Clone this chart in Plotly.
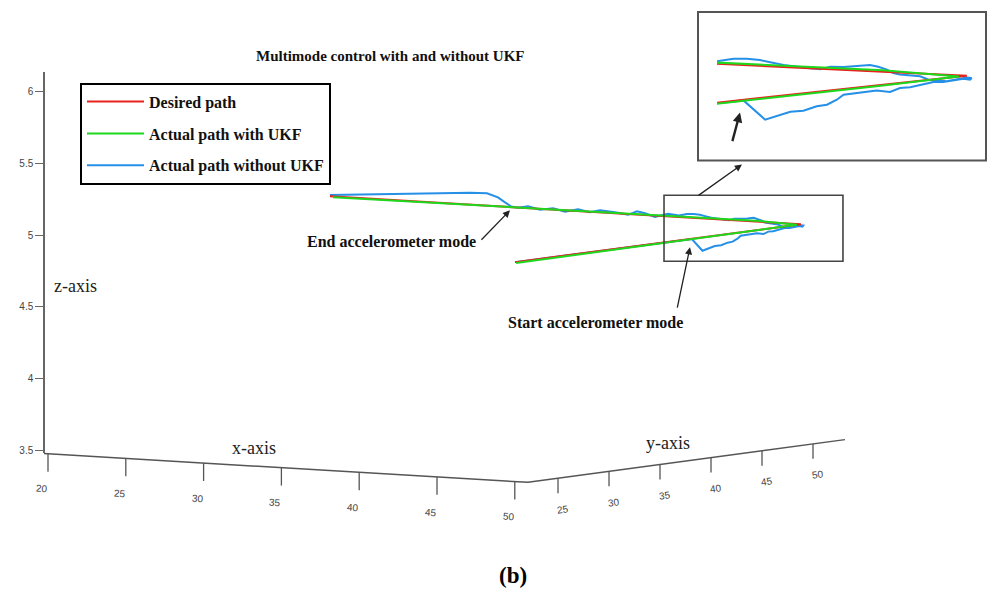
import plotly.graph_objects as go

# ---------------- data (u: horizontal position in x-axis units of the view, z: z value) ----------------
desired_u = [50.01, 68.39, 38.12]
desired_z = [4.8125, 5.076, 5.271]

ukf_u = [50.08, 65.76, 68.14, 65.76, 55.48, 38.31]
ukf_z = [4.806, 5.035, 5.073, 5.099, 5.163, 5.265]

noukf_u = [50.01, 61.38, 62.06, 62.43, 62.85, 63.26, 63.68, 64.00, 64.31, 64.52, 64.94, 65.35,
           65.56, 65.98, 66.29, 66.61, 67.03, 67.34, 67.65, 67.97, 68.28, 68.49, 68.54,
           68.38, 68.07, 67.76, 67.50, 67.23, 66.92, 66.61, 66.29, 66.08, 65.88, 65.61, 65.35,
           64.94, 64.52, 64.10, 63.79, 63.47, 63.05, 62.64, 62.22, 61.90, 61.49, 61.07, 60.55,
           59.85, 59.01, 58.37, 57.85, 57.28, 56.44, 55.48, 54.83, 54.06, 53.23, 52.46, 51.62,
           50.85, 50.21, 49.76, 49.37, 48.92, 48.21, 47.12, 45.19, 42.62, 40.05, 38.12]
noukf_z = [4.8125, 4.973, 4.892, 4.906, 4.925, 4.930, 4.948, 4.955, 4.976, 4.997, 5.004, 5.008,
           5.014, 5.008, 5.025, 5.028, 5.042, 5.050, 5.050, 5.056, 5.064, 5.060, 5.067,
           5.0695, 5.061, 5.053, 5.056, 5.058, 5.074, 5.078, 5.082, 5.088, 5.102, 5.114, 5.121,
           5.117, 5.113, 5.114, 5.104, 5.108, 5.115, 5.122, 5.133, 5.142, 5.148, 5.148, 5.137,
           5.149, 5.128, 5.153, 5.167, 5.142, 5.160, 5.174, 5.160, 5.181, 5.163, 5.188, 5.177,
           5.201, 5.191, 5.201, 5.229, 5.264, 5.292, 5.295, 5.292, 5.288, 5.284, 5.281]

x_ticks = [20, 25, 30, 35, 40, 45, 50]
y_ticks = [25, 30, 35, 40, 45, 50]
z_ticks = [3.5, 4, 4.5, 5, 5.5, 6]

# ---------------- view geometry ----------------
X_LIM = (19.74, 50.85)
Y_LIM = (22.06, 53.13)
Z_FLOOR = 3.479


def floor(x, y):
    u = x + 0.6555 * (y - Y_LIM[0])
    z = Z_FLOOR - 0.00646 * (x - X_LIM[0]) + 0.00958 * (y - Y_LIM[0])
    return u, z


RED = "#e8231d"
GREEN = "#1ed81e"
BLUE = "#2590e6"
AX = "#555555"
SERIF = "Liberation Serif, Times New Roman, serif"
NARROW = "Liberation Sans Narrow, Arial Narrow, Liberation Sans, sans-serif"

fig = go.Figure()

# main paths (blue underneath, as in the original)
fig.add_trace(go.Scatter(x=noukf_u, y=noukf_z, mode="lines", name="Actual path without UKF",
                         line=dict(color=BLUE, width=2), legendgroup="c", legendrank=3))
fig.add_trace(go.Scatter(x=desired_u, y=desired_z, mode="lines", name="Desired path",
                         line=dict(color=RED, width=2), legendgroup="a", legendrank=1))
fig.add_trace(go.Scatter(x=ukf_u, y=ukf_z, mode="lines", name="Actual path with UKF",
                         line=dict(color=GREEN, width=2), legendgroup="b", legendrank=2))

# inset (zoomed view of the same data)
for uu, zz, c in [(noukf_u, noukf_z, BLUE), (desired_u, desired_z, RED), (ukf_u, ukf_z, GREEN)]:
    fig.add_trace(go.Scatter(x=uu, y=zz, mode="lines", showlegend=False, hoverinfo="skip",
                             line=dict(color=c, width=2), xaxis="x3", yaxis="y3"))

# floor axes (x-axis and y-axis of the 3-D view)
ax_u, ax_z = [], []
for p in [floor(X_LIM[0], Y_LIM[0]), floor(X_LIM[1], Y_LIM[0]), floor(X_LIM[1], Y_LIM[1])]:
    ax_u.append(p[0]); ax_z.append(p[1])
fig.add_trace(go.Scatter(x=ax_u, y=ax_z, mode="lines", showlegend=False, hoverinfo="skip",
                         line=dict(color=AX, width=1.5)))

tk_u, tk_z = [], []
for v in x_ticks:
    u, z = floor(v, Y_LIM[0])
    tk_u += [u, u, None]; tk_z += [z, z - 0.125, None]
    fig.add_annotation(x=u - 0.38, y=z - 0.245, text=str(v), showarrow=False, textangle=4,
                       xanchor="center", yanchor="middle",
                       font=dict(family=NARROW, size=10, color="#444"))
for v in y_ticks:
    u, z = floor(X_LIM[1], v)
    tk_u += [u, u, None]; tk_z += [z, z - 0.104, None]
    fig.add_annotation(x=u + 0.32, y=z - 0.215, text=str(v), showarrow=False, textangle=-8,
                       xanchor="center", yanchor="middle",
                       font=dict(family=NARROW, size=10, color="#444"))
fig.add_trace(go.Scatter(x=tk_u, y=tk_z, mode="lines", showlegend=False, hoverinfo="skip",
                         line=dict(color=AX, width=1.3)))

# dummy trace for the vertical z-axis
fig.add_trace(go.Scatter(x=[None], y=[None], xaxis="x", yaxis="y2", showlegend=False))

# zoom box in main view
fig.add_shape(type="rect", xref="x", yref="y", x0=59.59, x1=71.09, y0=4.819, y1=5.278,
              line=dict(color="#444", width=1.6))
# inset frame
fig.add_shape(type="rect", xref="paper", yref="paper", x0=698 / 998, x1=986 / 998,
              y0=1 - 161 / 594, y1=1 - 12 / 594, line=dict(color="#555", width=2))


def label(px, py, text, size, color="#111", family=SERIF):
    fig.add_annotation(x=px / 998, y=1 - py / 594, xref="paper", yref="paper", text=text,
                       showarrow=False, xanchor="center", yanchor="middle",
                       font=dict(family=family, size=size, color=color))


# axis titles
label(254, 450, "x-axis", 18, "#222")
label(668, 444, "y-axis", 18, "#222")
label(75, 287, "z-axis", 18, "#222")
# title and caption
label(390, 56, "<b>Multimode control with and without UKF</b>", 15)
label(513, 577, "<b>(b)</b>", 23, "#000")
# callouts
label(391, 242, "<b>End accelerometer mode</b>", 16)
label(595, 324, "<b>Start accelerometer mode</b>", 16)
for hx, hy, dx, dy, w in [(510, 211, -30, 31, 1.3), (690, 248, -13, 62, 1.3),
                          (742, 165, -45, 32, 1.3), (740, 113, -8, 30, 2.4)]:
    fig.add_annotation(x=hx / 998, y=1 - hy / 594, xref="paper", yref="paper", text="",
                       showarrow=True, ax=dx, ay=dy, arrowhead=2, arrowsize=1.1 if w < 2 else 0.8,
                       arrowwidth=w, arrowcolor="#222", standoff=0)

fig.update_layout(
    width=998, height=594,
    margin=dict(l=0, r=0, t=0, b=0),
    paper_bgcolor="white", plot_bgcolor="rgba(0,0,0,0)",
    showlegend=True,
    legend=dict(x=80 / 998, y=1 - 83 / 594, xanchor="left", yanchor="top",
                bgcolor="white", bordercolor="black", borderwidth=2,
                font=dict(family=SERIF, size=16, color="#111", weight="bold"),
                itemwidth=57, traceorder="grouped", tracegroupgap=8),
    xaxis=dict(domain=[0, 1], range=[16.915, 81.054], visible=False, fixedrange=True),
    yaxis=dict(domain=[0, 1], range=[2.5139, 6.6389], visible=False, fixedrange=True),
    yaxis2=dict(domain=[(594 - 455) / 594, (594 - 72) / 594], range=[3.479, 6.139],
                anchor="free", position=44 / 998, showline=True, linecolor="#666", linewidth=1.5,
                ticks="outside", ticklen=8, tickcolor="#666", tickwidth=1.3,
                tickvals=z_ticks, showgrid=False, zeroline=False,
                tickfont=dict(family=NARROW, size=10, color="#444")),
    xaxis3=dict(domain=[717 / 998, 986 / 998], range=[60.55, 68.99], visible=False, anchor="y3"),
    yaxis3=dict(domain=[(594 - 161) / 594, (594 - 12) / 594], range=[4.721, 5.344], visible=False,
                anchor="x3"),
)

fig.write_html("out.html", config={"displayModeBar": False},
               post_script="document.body.style.margin='0px';")
